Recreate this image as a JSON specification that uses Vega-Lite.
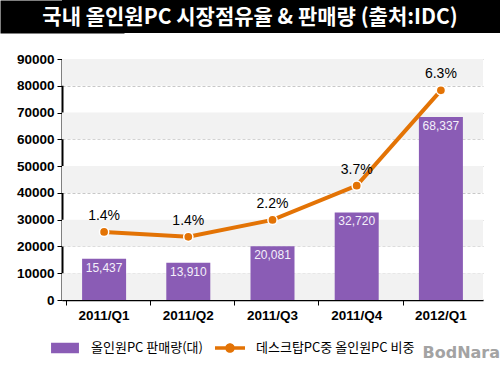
{
  "$schema": "https://vega.github.io/schema/vega-lite/v6.json",
  "background": "white",
  "padding": 0,
  "spacing": 19,
  "columns": 1,
  "align": "none",
  "title": {"text": "BodNara", "orient": "bottom", "anchor": "end", "font": "DejaVu Sans", "fontSize": 16, "fontWeight": "bold", "color": "#a3a3a3", "offset": -10},
  "config": {
    "view": {"stroke": null},
    "font": "Liberation Sans",
    "axisY": {"values": [0, 10000, 20000, 30000, 40000, 50000, 60000, 70000, 80000, 90000], "format": "d", "labelOverlap": false, "labelFontSize": 13.5, "labelFontWeight": "bold", "labelColor": "#000", "domainColor": "#000", "domainWidth": 2, "tickColor": "#000", "tickSize": 5, "labelPadding": 3, "grid": true, "gridColor": "#c8c8c8", "gridDash": [3, 2], "minExtent": 62, "maxExtent": 62},
    "axisX": {"labelAngle": 0, "labelFontSize": 13.5, "labelFontWeight": "bold", "labelColor": "#000", "domainColor": "#000", "domainWidth": 1.5, "tickColor": "#000", "tickSize": 5, "bandPosition": 0, "labelPadding": 3, "grid": false}
  },
  "datasets": {
    "main": [
      {"quarter": "2011/Q1", "sales": 15437, "line": 25400, "share": "1.4%"},
      {"quarter": "2011/Q2", "sales": 13910, "line": 23600, "share": "1.4%"},
      {"quarter": "2011/Q3", "sales": 20081, "line": 29900, "share": "2.2%"},
      {"quarter": "2011/Q4", "sales": 32720, "line": 42700, "share": "3.7%"},
      {"quarter": "2012/Q1", "sales": 68337, "line": 78300, "share": "6.3%"}
    ],
    "bands": [
      {"lo": 0, "hi": 10000},
      {"lo": 20000, "hi": 30000},
      {"lo": 40000, "hi": 50000},
      {"lo": 60000, "hi": 70000},
      {"lo": 80000, "hi": 90000}
    ]
  },
  "concat": [
    {
      "width": 438,
      "height": 33,
      "view": {"fill": "#000000", "stroke": null},
      "data": {"values": [{"t": "국내 올인원PC 시장점유율 & 판매량 (출처:IDC)", "mid": 0}]},
      "mark": {"type": "text", "color": "white", "fontSize": 21, "fontWeight": "bold", "font": "Noto Sans CJK KR", "baseline": "middle", "align": "center", "dx": -31, "dy": 1},
      "encoding": {
        "text": {"field": "t"},
        "y": {"field": "mid", "type": "quantitative", "scale": {"domain": [-1, 1]},
          "axis": {"title": null, "labels": false, "ticks": false, "grid": false, "domainWidth": 124, "domainColor": "#000", "minExtent": 62, "maxExtent": 62}}
      }
    },
    {
      "width": 421,
      "height": 241,
      "layer": [
        {
          "data": {"name": "bands"},
          "mark": {"type": "rect", "color": "#f2f2f2"},
          "encoding": {
            "y": {"field": "lo", "type": "quantitative", "scale": {"domain": [0, 90000]}, "title": null},
            "y2": {"field": "hi"}
          }
        },
        {
          "data": {"name": "main"},
          "layer": [
            {
              "mark": {"type": "bar", "width": 44},
              "encoding": {
                "x": {"field": "quarter", "type": "nominal", "sort": null, "title": null},
                "y": {"field": "sales", "type": "quantitative", "scale": {"domain": [0, 90000]}, "title": null},
                "color": {"datum": "올인원PC 판매량(대)", "type": "nominal",
                  "scale": {"domain": ["올인원PC 판매량(대)", "데스크탑PC중 올인원PC 비중"], "range": ["#8a5cb5", "#e37305"]},
                  "legend": {
                    "title": null, "orient": "none", "direction": "horizontal", "legendX": -12, "legendY": 333,
                    "symbolSize": 900, "labelFont": "Noto Sans CJK KR", "labelFontSize": 13, "labelColor": "#000",
                    "labelOffset": 11, "columnPadding": 12, "symbolStrokeWidth": 0,
                    "encode": {"symbols": {"update": {
                      "shape": {"signal": "datum.value === '올인원PC 판매량(대)' ? 'M-0.93,-0.35H0.93V0.35H-0.93Z' : 'M-1,-0.12H1V0.12H-1Z M0.32,0 A0.32,0.32 0 1,1 -0.32,0 A0.32,0.32 0 1,1 0.32,0 Z'"},
                      "fill": {"signal": "datum.value === '올인원PC 판매량(대)' ? '#8a5cb5' : '#e37305'"},
                      "strokeWidth": {"value": 0}
                    }}}
                  }}
              }
            },
            {
              "mark": {"type": "text", "baseline": "middle", "dy": 9, "fontSize": 12, "color": "#f4f0fa"},
              "encoding": {
                "x": {"field": "quarter", "type": "nominal", "sort": null},
                "y": {"field": "sales", "type": "quantitative"},
                "text": {"field": "sales", "type": "quantitative", "format": ","}
              }
            },
            {
              "mark": {"type": "line", "strokeWidth": 4},
              "encoding": {
                "x": {"field": "quarter", "type": "nominal", "sort": null},
                "y": {"field": "line", "type": "quantitative"},
                "color": {"datum": "데스크탑PC중 올인원PC 비중", "type": "nominal"}
              }
            },
            {
              "mark": {"type": "point", "filled": true, "size": 85, "color": "#e37305", "stroke": "white", "strokeWidth": 1.5, "opacity": 1},
              "encoding": {
                "x": {"field": "quarter", "type": "nominal", "sort": null},
                "y": {"field": "line", "type": "quantitative"}
              }
            },
            {
              "mark": {"type": "text", "baseline": "middle", "dy": -16, "fontSize": 14, "color": "#000"},
              "encoding": {
                "x": {"field": "quarter", "type": "nominal", "sort": null},
                "y": {"field": "line", "type": "quantitative"},
                "text": {"field": "share"}
              }
            }
          ]
        }
      ]
    }
  ]
}
